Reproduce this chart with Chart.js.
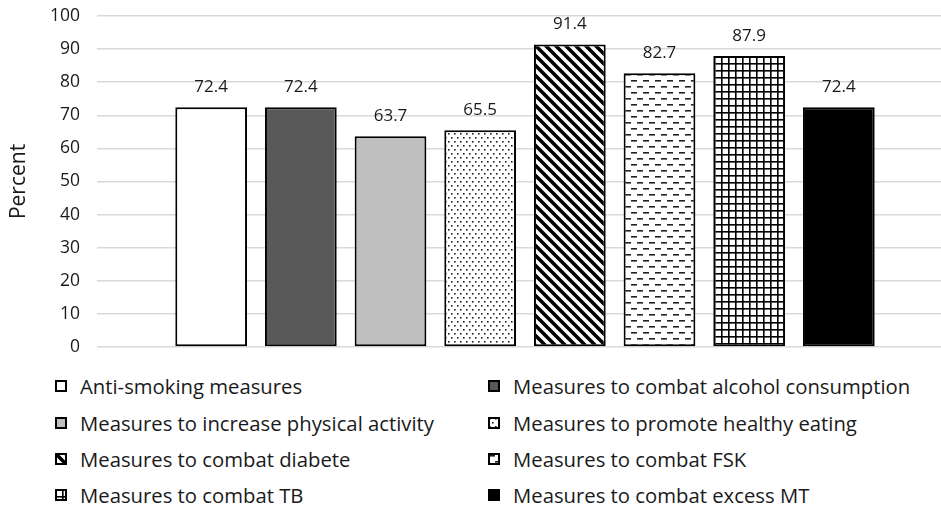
<!DOCTYPE html>
<html>
<head>
<meta charset="utf-8">
<script src="https://cdn.jsdelivr.net/npm/chart.js@4.4.1/dist/chart.umd.min.js"></script>
<style>
  html, body { margin: 0; padding: 0; background: #fff; }
  body { width: 941px; height: 507px; position: relative; overflow: hidden; font-family: "Open Sans", sans-serif; }
  #wrap { position: absolute; left: 0; top: 0; width: 953px; height: 362px; }
  #legend { position: absolute; left: 0; top: 372px; width: 941px; }
  .item { position: absolute; display: flex; align-items: center; font-size: 20.3px; color: #1a1a1a; white-space: nowrap; height: 28px; }
  .item canvas { width: 12px; height: 12px; margin-right: 13px; }
</style>
</head>
<body>
<div id="wrap"><canvas id="chart"></canvas></div>
<div id="legend"></div>
<script>
// Share of respondents naming each prevention measure (percent)
const measures = [
  "Anti-smoking measures",
  "Measures to combat alcohol consumption",
  "Measures to increase physical activity",
  "Measures to promote healthy eating",
  "Measures to combat diabete",
  "Measures to combat FSK",
  "Measures to combat TB",
  "Measures to combat excess MT"
];
const percents = [72.4, 72.4, 63.7, 65.5, 91.4, 82.7, 87.9, 72.4];
const yTicks = [0, 10, 20, 30, 40, 50, 60, 70, 80, 90, 100];
const fills = ["white", "dark", "light", "dots", "diag", "dash", "grid", "black"];

function tile(w, h, draw) {
  const c = document.createElement("canvas");
  c.width = w; c.height = h;
  const g = c.getContext("2d");
  g.fillStyle = "#fff";
  g.fillRect(0, 0, w, h);
  draw(g);
  return c;
}

function makeFill(ctx, kind) {
  switch (kind) {
    case "white": return "#ffffff";
    case "dark": return "#595959";
    case "light": return "#bfbfbf";
    case "black": return "#000000";
    case "dots":
      return ctx.createPattern(tile(6, 8, g => {
        g.fillStyle = "#222";
        g.fillRect(1, 1, 1.6, 1.6);
        g.fillRect(4, 5, 1.6, 1.6);
      }), "repeat");
    case "diag":
      return ctx.createPattern(tile(10, 10, g => {
        g.strokeStyle = "#000";
        g.lineWidth = 3.6;
        g.beginPath();
        g.moveTo(-5, -5); g.lineTo(15, 15);
        g.moveTo(-15, -5); g.lineTo(5, 15);
        g.moveTo(5, -5); g.lineTo(25, 15);
        g.stroke();
      }), "repeat");
    case "dash":
      return ctx.createPattern(tile(12, 12, g => {
        g.fillStyle = "#222";
        g.fillRect(1, 2, 6, 1.6);
        g.fillRect(7, 8, 5, 1.6);
        g.fillRect(0, 8, 1, 1.6);
      }), "repeat");
    case "grid":
      return ctx.createPattern(tile(7, 7, g => {
        g.fillStyle = "#000";
        g.fillRect(0, 0, 7, 1.6);
        g.fillRect(0, 0, 1.6, 7);
      }), "repeat");
  }
}

const canvas = document.getElementById("chart");
const ctx = canvas.getContext("2d");

const datasets = measures.map((name, i) => ({
  label: name,
  data: [percents[i]],
  backgroundColor: makeFill(ctx, fills[i]),
  borderColor: "#000",
  borderWidth: 2,
  borderSkipped: false,
  barPercentage: 0.8,
  categoryPercentage: 0.838
}));

// Value printed above each bar
const valueLabels = {
  id: "valueLabels",
  afterDatasetsDraw(chart) {
    const c = chart.ctx;
    c.save();
    c.font = '17px "Open Sans"';
    c.fillStyle = "#1a1a1a";
    c.textAlign = "center";
    c.textBaseline = "middle";
    chart.data.datasets.forEach((ds, i) => {
      const bar = chart.getDatasetMeta(i).data[0];
      c.fillText(ds.data[0].toFixed(1), bar.x, bar.y - 20);
    });
    c.restore();
  }
};

new Chart(canvas, {
  type: "bar",
  data: { labels: [""], datasets },
  plugins: [valueLabels],
  options: {
    responsive: true,
    maintainAspectRatio: false,
    animation: false,
    layout: { padding: { top: 16, bottom: 15, right: 0, left: 0 } },
    plugins: { legend: { display: false }, tooltip: { enabled: false } },
    scales: {
      x: { display: false },
      y: {
        min: 0, max: 100,
        afterBuildTicks(axis) { axis.ticks = yTicks.map(v => ({ value: v })); },
        afterFit(axis) { axis.width = 97; },
        border: { display: false },
        grid: { color: "#d9d9d9", lineWidth: 1.5, drawTicks: true, tickLength: 14, tickColor: "rgba(0,0,0,0)" },
        ticks: { padding: 3, color: "#1a1a1a", font: { family: "Open Sans", size: 17.5 } },
        title: { display: true, text: "Percent", color: "#1a1a1a", padding: { top: 6, bottom: 0 }, font: { family: "Open Sans", size: 21 } }
      }
    }
  }
});

// Two-column legend below the plot
const legend = document.getElementById("legend");
const colX = [55, 488];
const rowY = [0, 36.5, 73, 109];
measures.forEach((name, i) => {
  const item = document.createElement("div");
  item.className = "item";
  item.style.left = colX[i % 2] + "px";
  item.style.top = rowY[Math.floor(i / 2)] + "px";
  const sw = document.createElement("canvas");
  sw.width = 12; sw.height = 12;
  const g = sw.getContext("2d");
  g.fillStyle = makeFill(g, fills[i]);
  g.fillRect(0, 0, 12, 12);
  g.strokeStyle = "#000";
  g.lineWidth = 2;
  g.strokeRect(1, 1, 10, 10);
  item.appendChild(sw);
  const span = document.createElement("span");
  span.textContent = name;
  item.appendChild(span);
  legend.appendChild(item);
});
</script>
</body>
</html>
